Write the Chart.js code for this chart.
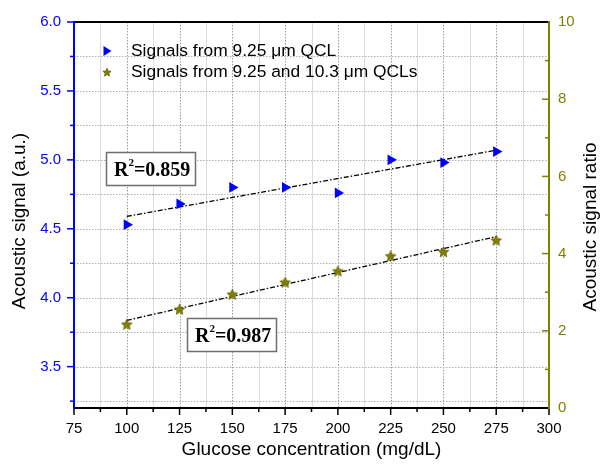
<!DOCTYPE html>
<html>
<head>
<meta charset="utf-8">
<script src="https://cdn.jsdelivr.net/npm/chart.js@4.4.0/dist/chart.umd.min.js"></script>
<style>
  html, body { margin: 0; padding: 0; background: #fff; }
  #wrap { width: 603px; height: 466px; }
</style>
</head>
<body>
<div id="wrap"><canvas id="grafica"></canvas></div>
<script>
// Datos
const glucosa = [100, 125, 150, 175, 200, 225, 250, 275];
const senal925 = [4.53, 4.68, 4.80, 4.80, 4.76, 5.00, 4.98, 5.06];
const razonQCLs = [2.17, 2.56, 2.95, 3.26, 3.55, 3.94, 4.05, 4.35];

// Rectas de ajuste (extremos)
const ajusteX = [100, 275];
const ajuste925 = [4.59, 5.07];
const ajusteRazon = [2.27, 4.44];

// Marcas de los ejes
const ticksX = [75, 100, 125, 150, 175, 200, 225, 250, 275, 300];
const ticksY = [3.5, 4.0, 4.5, 5.0, 5.5, 6.0];
const ticksY2 = [0, 2, 4, 6, 8, 10];

const etiquetas = ["Signals from 9.25 μm QCL", "Signals from 9.25 and 10.3 μm QCLs"];
const textosR2 = ["0.859", "0.987"];

const AZUL = '#0000ff';
const OLIVA = '#808000';
const FUENTE = '"Liberation Sans", Arial, sans-serif';

function crearEstrella(r) {
    const c = document.createElement('canvas');
    const s = Math.ceil(r * 2 + 3);
    c.width = s; c.height = s;
    const g = c.getContext('2d');
    g.beginPath();
    for (let i = 0; i < 10; i++) {
        const a = -Math.PI / 2 + i * Math.PI / 5;
        const rr = i % 2 ? r * 0.45 : r;
        g.lineTo(s / 2 + rr * Math.cos(a), s / 2 + 0.6 + rr * Math.sin(a));
    }
    g.closePath();
    g.fillStyle = OLIVA;
    g.fill();
    g.strokeStyle = '#5f5f00';
    g.lineWidth = 0.8;
    g.stroke();
    return c;
}
const estrella = crearEstrella(5.6);
const estrellaLeyenda = crearEstrella(4.3);

function fijarTicks(valores) {
    return scale => { scale.ticks = valores.map(v => ({ value: v })); };
}

// Rejilla, marcas menores, bordes, leyenda y textos
const decoracion = {
    id: 'decoracion',
    beforeDatasetsDraw(chart) {
        const { ctx, chartArea: a, scales } = chart;
        const x = scales.x, y = scales.y;
        ctx.save();
        // líneas verticales menores
        ctx.strokeStyle = '#dcdcdc';
        ctx.lineWidth = 1;
        ctx.setLineDash([]);
        for (let i = 0; i < ticksX.length - 1; i++) {
            const px = Math.round(x.getPixelForValue((ticksX[i] + ticksX[i + 1]) / 2)) + 0.5;
            ctx.beginPath(); ctx.moveTo(px, a.top); ctx.lineTo(px, a.bottom); ctx.stroke();
        }
        // líneas verticales mayores
        ctx.strokeStyle = '#9a9a9a';
        ctx.setLineDash([1.5, 1.5]);
        ticksX.slice(1, -1).forEach(v => {
            const px = Math.round(x.getPixelForValue(v)) + 0.5;
            ctx.beginPath(); ctx.moveTo(px, a.top); ctx.lineTo(px, a.bottom); ctx.stroke();
        });
        // líneas horizontales
        ctx.strokeStyle = '#b0b0b0';
        const horiz = [];
        ticksY.forEach(v => { horiz.push(v); horiz.push(v - 0.25); });
        horiz.forEach(v => {
            if (v >= 6) return;
            const py = Math.round(y.getPixelForValue(v)) + 0.5;
            ctx.beginPath(); ctx.moveTo(a.left, py); ctx.lineTo(a.right, py); ctx.stroke();
        });
        ctx.restore();
    },
    afterDatasetsDraw(chart) {
        const { ctx, chartArea: a, scales } = chart;
        const x = scales.x, y = scales.y, y2 = scales.y2;
        ctx.save();
        ctx.setLineDash([]);
        // marcas eje x (hacia fuera)
        ctx.strokeStyle = '#000';
        ctx.lineWidth = 1.5;
        ticksX.forEach((v, i) => {
            const px = x.getPixelForValue(v);
            ctx.beginPath(); ctx.moveTo(px, a.bottom); ctx.lineTo(px, a.bottom + 7); ctx.stroke();
            if (i < ticksX.length - 1) {
                const pm = x.getPixelForValue((v + ticksX[i + 1]) / 2);
                ctx.beginPath(); ctx.moveTo(pm, a.bottom); ctx.lineTo(pm, a.bottom + 4); ctx.stroke();
            }
        });
        // marcas eje y izquierdo (hacia fuera)
        ctx.strokeStyle = AZUL;
        ticksY.forEach(v => {
            const py = y.getPixelForValue(v);
            ctx.beginPath(); ctx.moveTo(a.left, py); ctx.lineTo(a.left - 7, py); ctx.stroke();
            const pm = y.getPixelForValue(v - 0.25);
            ctx.beginPath(); ctx.moveTo(a.left, pm); ctx.lineTo(a.left - 4, pm); ctx.stroke();
        });
        // marcas eje y derecho (hacia dentro)
        ctx.strokeStyle = OLIVA;
        ticksY2.forEach((v, i) => {
            const py = y2.getPixelForValue(v);
            ctx.beginPath(); ctx.moveTo(a.right, py); ctx.lineTo(a.right - 7, py); ctx.stroke();
            if (i < ticksY2.length - 1) {
                const pm = y2.getPixelForValue(v + 1);
                ctx.beginPath(); ctx.moveTo(a.right, pm); ctx.lineTo(a.right - 4, pm); ctx.stroke();
            }
        });
        // bordes
        ctx.lineWidth = 2;
        ctx.strokeStyle = '#000';
        ctx.beginPath(); ctx.moveTo(a.left, a.top); ctx.lineTo(a.right, a.top); ctx.stroke();
        ctx.beginPath(); ctx.moveTo(a.left, a.bottom); ctx.lineTo(a.right, a.bottom); ctx.stroke();
        ctx.strokeStyle = AZUL;
        ctx.beginPath(); ctx.moveTo(a.left, a.top - 1); ctx.lineTo(a.left, a.bottom + 1); ctx.stroke();
        ctx.strokeStyle = OLIVA;
        ctx.beginPath(); ctx.moveTo(a.right, a.top - 1); ctx.lineTo(a.right, a.bottom + 1); ctx.stroke();

        // leyenda
        const lx = a.left + 33, ly1 = a.top + 29, ly2 = a.top + 50;
        ctx.fillStyle = AZUL;
        ctx.beginPath();
        ctx.moveTo(lx - 3.5, ly1 - 5); ctx.lineTo(lx + 4.5, ly1); ctx.lineTo(lx - 3.5, ly1 + 5);
        ctx.closePath(); ctx.fill();
        ctx.drawImage(estrellaLeyenda, lx - estrellaLeyenda.width / 2, ly2 - estrellaLeyenda.height / 2);
        ctx.fillStyle = '#000';
        ctx.font = '17.4px ' + FUENTE;
        ctx.textBaseline = 'middle';
        ctx.textAlign = 'left';
        ctx.fillText(etiquetas[0], lx + 24, ly1);
        ctx.fillText(etiquetas[1], lx + 24, ly2);

        // cajas R²
        const cajas = [[a.left + 32, a.top + 130], [a.left + 113, a.top + 296]];
        cajas.forEach((c, i) => {
            const [bx, by] = c;
            ctx.fillStyle = '#fff';
            ctx.fillRect(bx, by, 89, 33);
            ctx.strokeStyle = '#6e6e6e';
            ctx.lineWidth = 1.5;
            ctx.strokeRect(bx + 0.5, by + 0.5, 89, 33);
            ctx.fillStyle = '#000';
            ctx.textBaseline = 'alphabetic';
            ctx.font = 'bold 20px "Liberation Serif", "Times New Roman", serif';
            let tx = bx + 8;
            ctx.fillText('R', tx, by + 24);
            tx += ctx.measureText('R').width;
            ctx.font = 'bold 11px "Liberation Serif", "Times New Roman", serif';
            ctx.fillText('2', tx, by + 14);
            tx += ctx.measureText('2').width;
            ctx.font = 'bold 20px "Liberation Serif", "Times New Roman", serif';
            ctx.fillText('=' + textosR2[i], tx, by + 24);
        });

        // títulos de los ejes
        ctx.fillStyle = '#000';
        ctx.font = '19px ' + FUENTE;
        ctx.textAlign = 'center';
        ctx.textBaseline = 'middle';
        ctx.fillText('Glucose concentration (mg/dL)', (a.left + a.right) / 2, 450);
        ctx.save();
        ctx.translate(20, 221);
        ctx.rotate(-Math.PI / 2);
        ctx.fillText('Acoustic signal (a.u.)', 0, 0);
        ctx.restore();
        ctx.save();
        ctx.translate(591, 227);
        ctx.rotate(-Math.PI / 2);
        ctx.fillText('Acoustic signal ratio', 0, 0);
        ctx.restore();
        ctx.restore();
    }
};

const ctx = document.getElementById('grafica');
new Chart(ctx, {
    type: 'scatter',
    data: {
        datasets: [
            {
                label: etiquetas[0],
                data: glucosa.map((g, i) => ({ x: g, y: senal925[i] })),
                yAxisID: 'y',
                pointStyle: 'triangle',
                rotation: 90,
                pointRadius: 6.2,
                backgroundColor: AZUL,
                borderColor: AZUL,
                borderWidth: 0,
                order: 1
            },
            {
                label: etiquetas[1],
                data: glucosa.map((g, i) => ({ x: g, y: razonQCLs[i] })),
                yAxisID: 'y2',
                pointStyle: estrella,
                pointRadius: 6,
                order: 1
            },
            {
                label: 'ajuste 9.25',
                type: 'line',
                data: ajusteX.map((g, i) => ({ x: g, y: ajuste925[i] })),
                yAxisID: 'y',
                borderColor: '#000',
                borderWidth: 1.3,
                borderDash: [5, 2, 1.5, 2],
                pointRadius: 0,
                fill: false,
                order: 2
            },
            {
                label: 'ajuste razón',
                type: 'line',
                data: ajusteX.map((g, i) => ({ x: g, y: ajusteRazon[i] })),
                yAxisID: 'y2',
                borderColor: '#000',
                borderWidth: 1.3,
                borderDash: [5, 2, 1.5, 2],
                pointRadius: 0,
                fill: false,
                order: 2
            }
        ]
    },
    options: {
        responsive: true,
        maintainAspectRatio: false,
        animation: false,
        layout: { padding: { top: 22, left: 0, right: 0, bottom: 0 } },
        plugins: {
            legend: { display: false },
            tooltip: { enabled: false }
        },
        scales: {
            x: {
                type: 'linear',
                min: 75,
                max: 300,
                afterBuildTicks: fijarTicks(ticksX),
                afterFit: s => { s.height = 58; },
                grid: { display: false },
                border: { display: false },
                ticks: { color: '#000', font: { size: 15, family: FUENTE }, padding: 4, maxRotation: 0 }
            },
            y: {
                position: 'left',
                min: 3.2,
                max: 6.0,
                afterBuildTicks: fijarTicks(ticksY),
                afterFit: s => { s.width = 74; },
                grid: { display: false },
                border: { display: false },
                ticks: {
                    color: AZUL,
                    font: { size: 15, family: FUENTE },
                    padding: 5,
                    callback: v => v.toFixed(1)
                }
            },
            y2: {
                position: 'right',
                min: 0,
                max: 10,
                afterBuildTicks: fijarTicks(ticksY2),
                afterFit: s => { s.width = 54; },
                grid: { display: false },
                border: { display: false },
                ticks: { color: OLIVA, font: { size: 15, family: FUENTE }, padding: 1 }
            }
        }
    },
    plugins: [decoracion]
});
</script>
</body>
</html>
